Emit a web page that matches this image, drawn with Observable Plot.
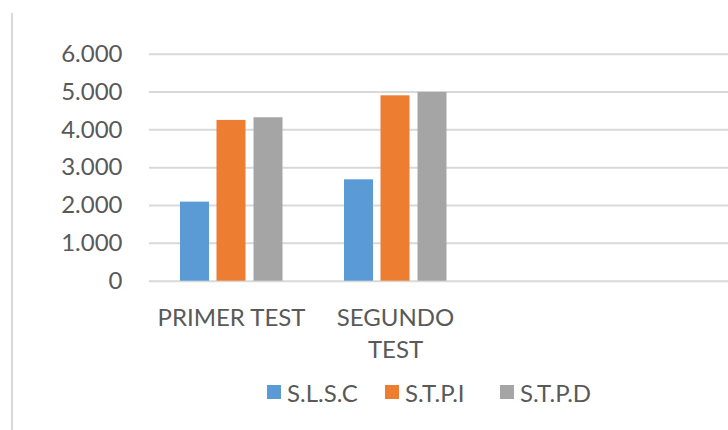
<!DOCTYPE html>
<html>
<head>
<meta charset="utf-8">
<script src="https://cdn.jsdelivr.net/npm/d3@7"></script>
<script src="https://cdn.jsdelivr.net/npm/@observablehq/plot@0.6"></script>
<style>
  html, body { margin: 0; padding: 0; background: #ffffff; }
  #wrap { position: relative; width: 728px; height: 430px; overflow: hidden; font-family: Lato, sans-serif; }
  #border { position: absolute; left: 11px; top: 13px; bottom: 0; width: 2px; background: #d9d9d9; }
  #legend { display: flex; align-items: center; height: 40px; padding-left: 267px; color: #595959; font-size: 24px; }
  .sw { width: 14px; height: 14px; margin-right: 6px; flex: none; }
  .item { display: flex; align-items: center; }
</style>
</head>
<body>
<div id="wrap"><div id="border"></div><div id="chart"></div><div id="legend"></div></div>
<script>
const categories = ["PRIMER TEST", "SEGUNDO TEST"];
const series = ["S.L.S.C", "S.T.P.I", "S.T.P.D"];
const colors = ["#5b9bd5", "#ed7d31", "#a5a5a5"];
const valuesSLSC = [2090, 2680];
const valuesSTPI = [4250, 4900];
const valuesSTPD = [4320, 4990];
const yTicks = [0, 1000, 2000, 3000, 4000, 5000, 6000];
const tickLabels = {"PRIMER TEST": "PRIMER TEST", "SEGUNDO TEST": "SEGUNDO\nTEST"};

const seriesValues = [valuesSLSC, valuesSTPI, valuesSTPD];
const data = [];
series.forEach((s, i) => categories.forEach((c, j) => data.push({category: c, series: s, value: seriesValues[i][j]})));

const es = d3.formatLocale({decimal: ",", thousands: ".", grouping: [3], currency: ["", ""]});
const fmt = es.format(",");

const offsets = [-36.5, 0, 37];
const barInset = 67.5;

const chart = Plot.plot({
  width: 728,
  height: 372,
  marginLeft: 149,
  marginRight: 0,
  marginTop: 53.7,
  marginBottom: 91.3,
  style: {fontFamily: "Lato, sans-serif", color: "#595959", background: "transparent"},
  x: {domain: categories, range: [149, 477], padding: 0, label: null},
  y: {domain: [0, 6000], label: null},
  marks: [
    Plot.ruleY(yTicks, {stroke: "#d9d9d9", strokeWidth: 2}),
    ...series.map((s, i) => Plot.barY(data.filter(d => d.series === s), {
      x: "category", y: "value", fill: colors[i], dx: offsets[i],
      insetLeft: barInset, insetRight: barInset
    })),
    Plot.axisY({ticks: yTicks, tickSize: 0, tickPadding: 27, tickFormat: fmt, fontSize: 24, fill: "#595959", label: null}),
    Plot.axisX({tickSize: 0, tickPadding: 22, tickFormat: d => tickLabels[d], fontSize: 24, lineHeight: 1.33, fill: "#595959", label: null})
  ]
});
document.getElementById("chart").appendChild(chart);

const legend = document.getElementById("legend");
const itemWidths = [118, 115, 110];
series.forEach((s, i) => {
  const item = document.createElement("div");
  item.className = "item";
  item.style.width = itemWidths[i] + "px";
  const sw = document.createElement("div");
  sw.className = "sw";
  sw.style.background = colors[i];
  const t = document.createElement("span");
  t.textContent = s;
  item.appendChild(sw);
  item.appendChild(t);
  legend.appendChild(item);
});
</script>
</body>
</html>
